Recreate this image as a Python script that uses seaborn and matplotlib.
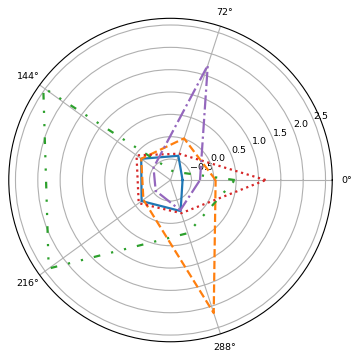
import numpy as np
import pandas as pd
import matplotlib
matplotlib.use("Agg")
import matplotlib.pyplot as plt
import seaborn as sns

# ---- data -------------------------------------------------------------
angles_deg = [0, 72, 144, 216, 288]
r_ticks = [-0.5, 0.0, 0.5, 1.0, 1.5, 2.0, 2.5]

series_blue = [-0.70, -0.40, -0.16, -0.17, -0.24]
series_orange = [0.04, 0.01, -0.16, -0.22, 2.16]
series_green = [0.47, -0.77, 2.55, 2.40, 0.28]
series_red = [1.16, -0.35, -0.03, -0.09, -0.19]
series_purple = [-0.31, 1.73, -0.50, -0.56, -0.26]

series_list = [series_blue, series_orange, series_green, series_red, series_purple]
colors = sns.color_palette("tab10", 5)
linestyles = ["-", "--", (0, (3, 5, 1, 5, 1, 5)), ":", "-."]

# ---- figure -----------------------------------------------------------
plt.rcParams["font.family"] = ["DejaVu Sans"]
fig = plt.figure(figsize=(3.62, 3.59), dpi=100)
ax = fig.add_axes([0.024, 0.048, 0.894, 0.901], projection="polar")

theta = np.deg2rad(angles_deg + [angles_deg[0]])
for vals, col, ls in zip(series_list, colors, linestyles):
    r = list(vals) + [vals[0]]
    df = pd.DataFrame({"theta": theta, "r": r})
    sns.lineplot(data=df, x="theta", y="r", ax=ax, sort=False, color=col,
                 linestyle=ls, linewidth=1.6, estimator=None)

ax.set_xlabel("")
ax.set_ylabel("")
ax.set_thetagrids(angles_deg)
ax.set_ylim(-0.97, 2.65)
ax.set_yticks(r_ticks)
ax.tick_params(labelsize=6.8)
ax.tick_params(axis="x", pad=0)
ax.grid(True, color="#b0b0b0", linewidth=0.8)

fig.savefig("out.png", dpi=100)
